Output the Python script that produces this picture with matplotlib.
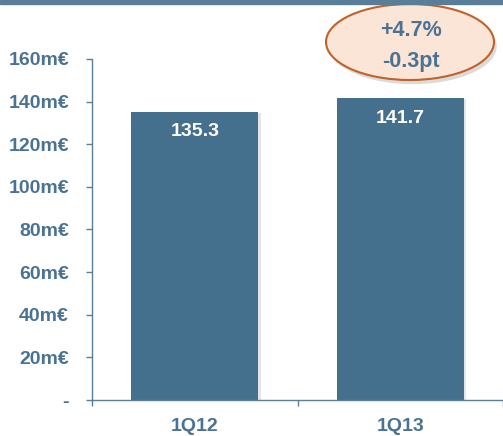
import matplotlib
matplotlib.use("Agg")
import matplotlib.pyplot as plt
import matplotlib.patheffects as pe
from matplotlib.patches import Ellipse, Rectangle

# quarterly revenue, m€
quarters = ["1Q12", "1Q13"]
revenue = [135.3, 141.7]
y_ticks = [0, 20, 40, 60, 80, 100, 120, 140, 160]
y_labels = ["-", "20m€", "40m€", "60m€", "80m€", "100m€", "120m€", "140m€", "160m€"]
callout = ["+4.7%", "-0.3pt"]

BAR = "#446f8d"
TXT = "#4a7292"
SPINE = "#5b7f98"

plt.rcParams["font.family"] = ["Liberation Sans", "DejaVu Sans"]

fig = plt.figure(figsize=(5.03, 4.36), dpi=100)
ax = fig.add_axes([92 / 503, 1 - 400 / 436, 1 - 92 / 503, (400 - 59) / 436])

x = range(len(quarters))
bars = ax.bar(x, revenue, width=0.62, color=BAR, zorder=2)
for b in bars:
    b.set_path_effects([pe.SimplePatchShadow(offset=(1.5, -1), shadow_rgbFace="#999999", alpha=0.25),
                        pe.Normal()])

for xi, v in zip(x, revenue):
    ax.text(xi, v - 5.5, f"{v:.1f}", ha="center", va="top", color="white",
            fontsize=14, fontweight="bold", zorder=3)

ax.set_xlim(-0.5, 1.5)
ax.set_ylim(0, 160)
ax.set_yticks(y_ticks)
ax.set_yticklabels(y_labels)
ax.set_xticks(list(x))
ax.set_xticklabels(quarters)
ax.set_xticks([-0.5, 0.5, 1.5], minor=True)

ax.tick_params(axis="y", direction="out", length=4.5, width=1, color=SPINE, pad=12,
               labelsize=14, labelcolor=TXT)
ax.tick_params(axis="x", which="major", length=0, pad=13, labelsize=14, labelcolor=TXT)
ax.tick_params(axis="x", which="minor", direction="out", length=4.5, width=1, color=SPINE)
for lbl in ax.get_yticklabels() + ax.get_xticklabels():
    lbl.set_fontweight("bold")

for s in ["top", "right"]:
    ax.spines[s].set_visible(False)
for s in ["left", "bottom"]:
    ax.spines[s].set_color(SPINE)
    ax.spines[s].set_linewidth(1)

# header band
fig.add_artist(Rectangle((0, 1 - 4 / 436), 1, 4 / 436, transform=fig.transFigure,
                         color="#5a7e98", zorder=5))

# growth callout
ell = Ellipse((410 / 503, 1 - 42 / 436), 168 / 503, 76 / 436, transform=fig.transFigure,
              facecolor="#fae5d6", edgecolor="#c0622a", linewidth=1.5, zorder=4)
ell.set_path_effects([pe.SimplePatchShadow(offset=(2, -3), shadow_rgbFace="#888888", alpha=0.3),
                      pe.Normal()])
fig.add_artist(ell)
fig.text(411 / 503, 1 - 30 / 436, callout[0], ha="center", va="center", color=TXT,
         fontsize=15.5, fontweight="bold", zorder=6)
fig.text(411 / 503, 1 - 61 / 436, callout[1], ha="center", va="center", color=TXT,
         fontsize=15.5, fontweight="bold", zorder=6)

fig.savefig("out.png", dpi=100)
